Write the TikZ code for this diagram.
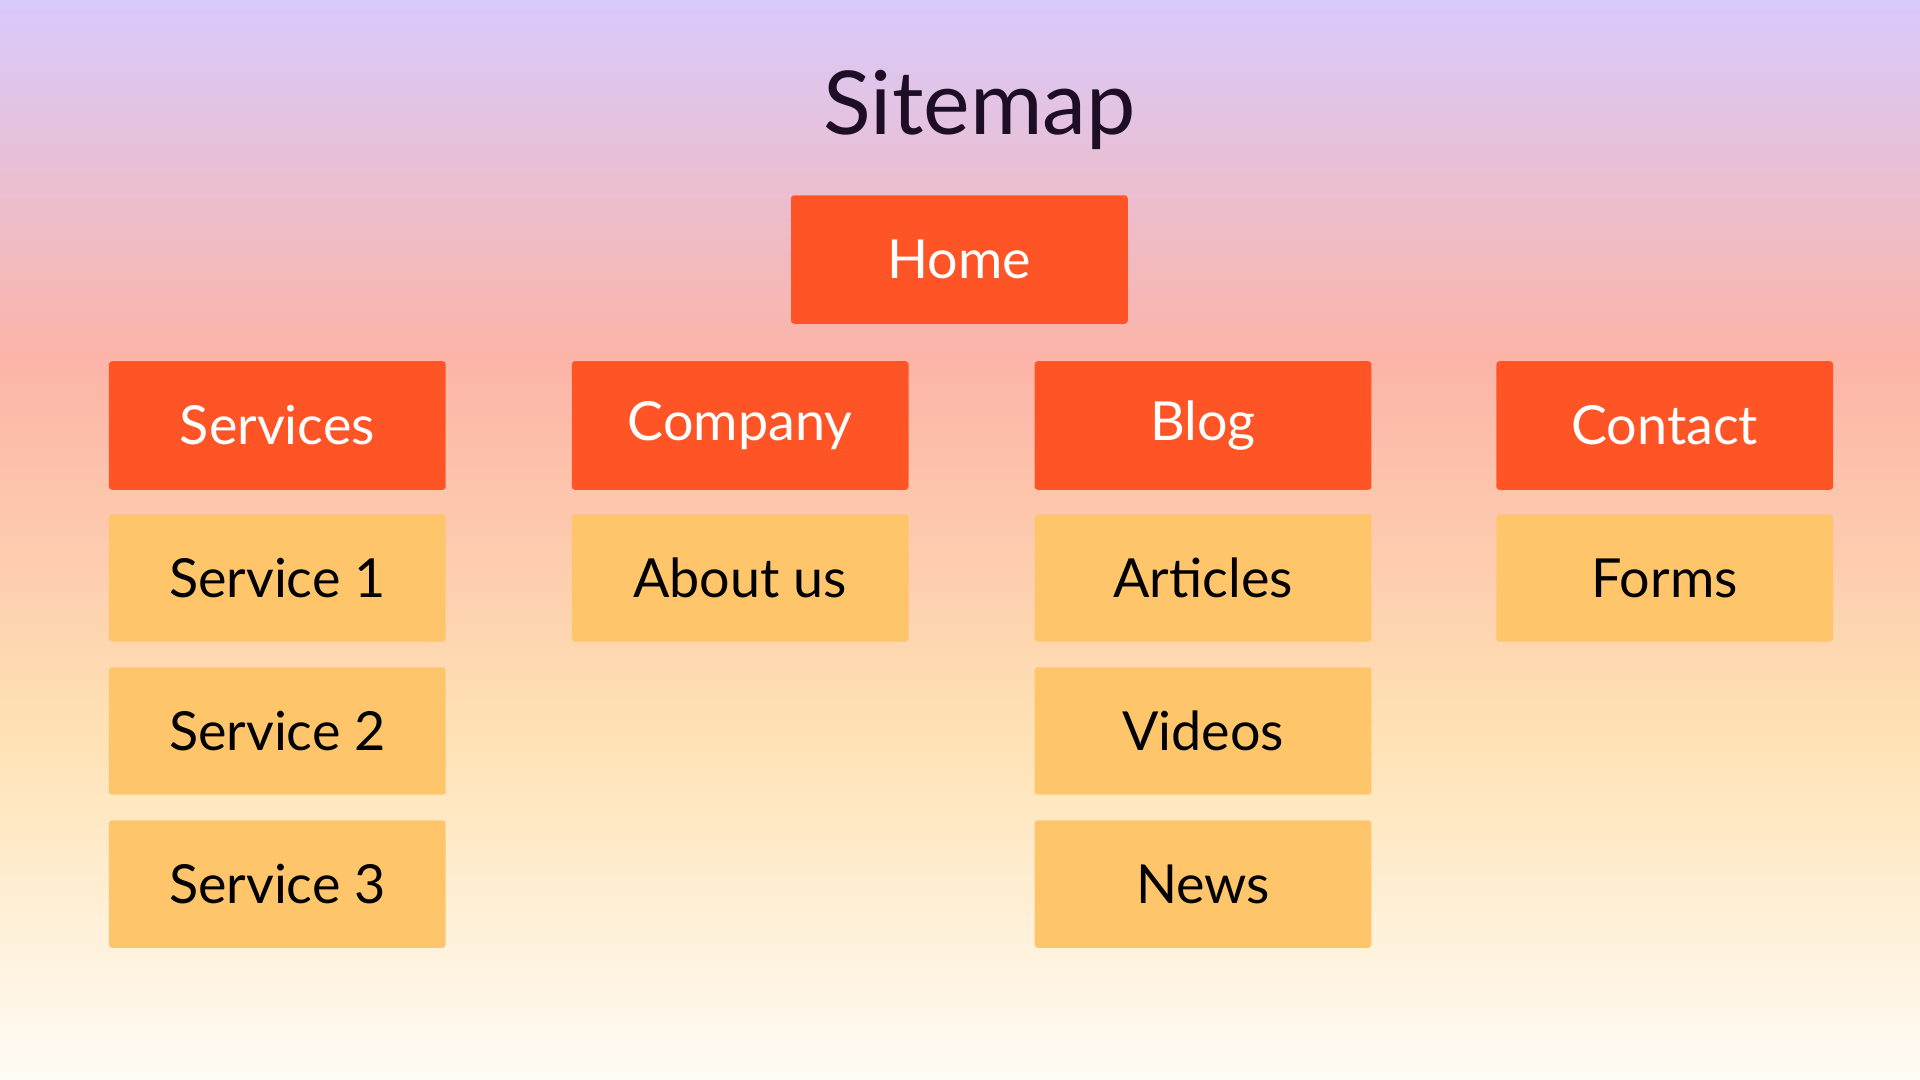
\documentclass[tikz,border=0pt]{standalone}
\usepackage{fontspec}
\setmainfont{Lato}
\definecolor{topc}{HTML}{D8CAFD}
\definecolor{midc}{HTML}{FCB4A8}
\definecolor{lowc}{HTML}{FFE2B4}
\definecolor{botc}{HTML}{FFFCF6}
\definecolor{mainbox}{HTML}{FF5526}
\definecolor{subbox}{HTML}{FFC56B}
\definecolor{titlec}{HTML}{1E0E25}
\begin{document}
\begin{tikzpicture}[x=1pt,y=-1pt,
  mainstyle/.style={fill=mainbox,rounded corners=2.5pt,minimum width=275pt,minimum height=105pt,inner sep=0pt,text=white,font=\fontsize{44}{50}\selectfont},
  substyle/.style={fill=subbox,rounded corners=2.5pt,minimum width=275pt,minimum height=104pt,inner sep=0pt,text=black,font=\fontsize{44}{50}\selectfont}]
\useasboundingbox (0,0) rectangle (1568,882);
\shade[top color=topc,bottom color=midc] (0,0) rectangle (1568,290);
\shade[top color=midc,bottom color=lowc] (0,289.5) rectangle (1568,600);
\shade[top color=lowc,bottom color=botc] (0,599.5) rectangle (1568,882);
\node[text=titlec,font=\fontsize{72}{80}\selectfont] (title) at (800,90) {Sitemap};
\node[mainstyle] (home) at (783.5,212) {Home};
\node[mainstyle] (services) at (226.5,347.5) {Services};
\node[mainstyle] (company) at (604.5,347.5) {Company};
\node[mainstyle] (blog) at (982.5,347.5) {Blog};
\node[mainstyle] (contact) at (1359.5,347.5) {Contact};
\node[substyle] (s1) at (226.5,472) {Service 1};
\node[substyle] (s2) at (226.5,597) {Service 2};
\node[substyle] (s3) at (226.5,722) {Service 3};
\node[substyle] (about) at (604.5,472) {About us};
\node[substyle] (articles) at (982.5,472) {Articles};
\node[substyle] (videos) at (982.5,597) {Videos};
\node[substyle] (news) at (982.5,722) {News};
\node[substyle] (forms) at (1359.5,472) {Forms};
\end{tikzpicture}
\end{document}
